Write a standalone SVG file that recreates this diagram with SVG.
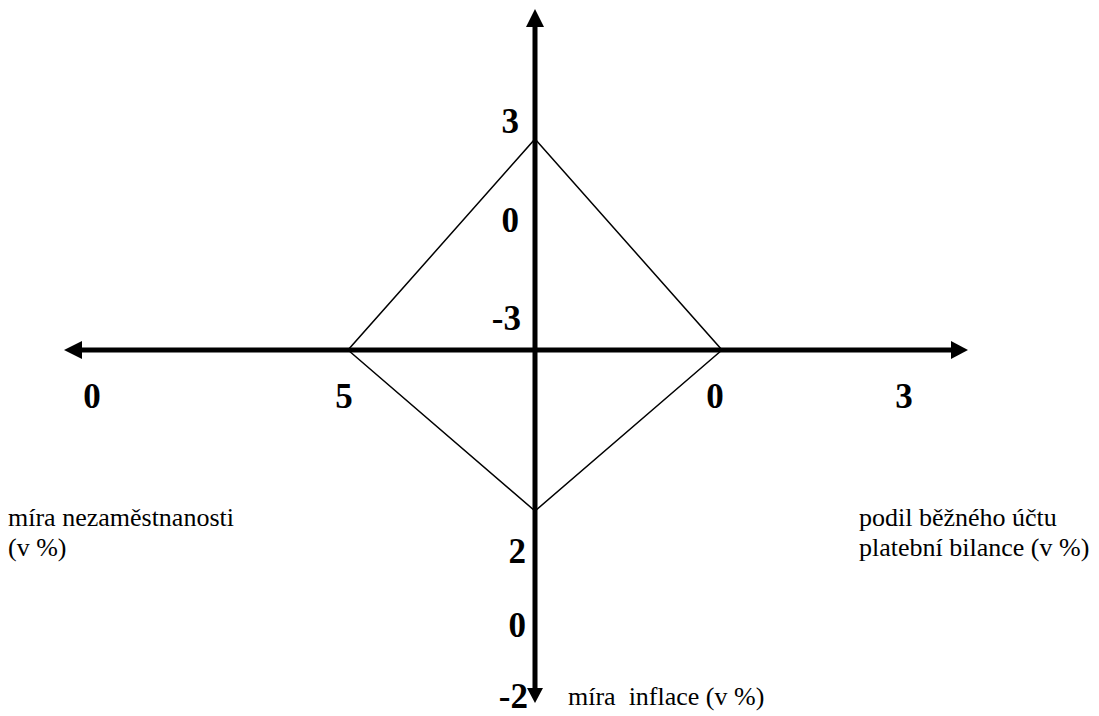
<svg xmlns="http://www.w3.org/2000/svg" width="1099" height="716" viewBox="0 0 1099 716">
<style>
.num{font-family:"Liberation Serif","Times New Roman",serif;font-weight:bold;font-size:35px;fill:#000}
.lbl{font-family:"Liberation Serif","Times New Roman",serif;font-size:26px;fill:#000}
.axis{stroke:#000;stroke-width:5;fill:none}
.dia{stroke:#000;stroke-width:1.5;fill:none}
.head{fill:#000}
</style>
<rect width="1099" height="716" fill="#fff"/>
<g id="connectors">
<polygon id="diamond" class="dia" points="535,139 722,350 535,511 348,350"/>
<line class="axis" x1="82" y1="350" x2="952" y2="350"/>
<line class="axis" x1="535" y1="26" x2="535" y2="689"/>
<polygon class="head" points="64,350 82,341 82,359"/>
<polygon class="head" points="968,350 951,341 951,359"/>
<polygon class="head" points="535,9 526,27 544,27"/>
<polygon class="head" points="535,703 527,688 543,688"/>
</g>
<g id="vertical-labels">
<text class="num" x="519" y="133" text-anchor="end">3</text>
<text class="num" x="519" y="232" text-anchor="end">0</text>
<text class="num" x="521" y="330" text-anchor="end">-3</text>
<text class="num" x="526" y="563" text-anchor="end">2</text>
<text class="num" x="526" y="637" text-anchor="end">0</text>
<text class="num" x="528" y="708" text-anchor="end">-2</text>
</g>
<g id="horizontal-labels">
<text class="num" x="92" y="408" text-anchor="middle">0</text>
<text class="num" x="344" y="408" text-anchor="middle">5</text>
<text class="num" x="715" y="408" text-anchor="middle">0</text>
<text class="num" x="904" y="408" text-anchor="middle">3</text>
</g>
<g id="unemployment-label">
<text class="lbl" x="8" y="526">míra nezaměstnanosti</text>
<text class="lbl" x="8" y="556">(v %)</text>
</g>
<g id="current-account-label">
<text class="lbl" x="859" y="526">podil běžného účtu</text>
<text class="lbl" x="859" y="556">platební bilance (v %)</text>
</g>
<g id="inflation-label">
<text class="lbl" x="568" y="705" xml:space="preserve">míra  inflace (v %)</text>
</g>
</svg>
